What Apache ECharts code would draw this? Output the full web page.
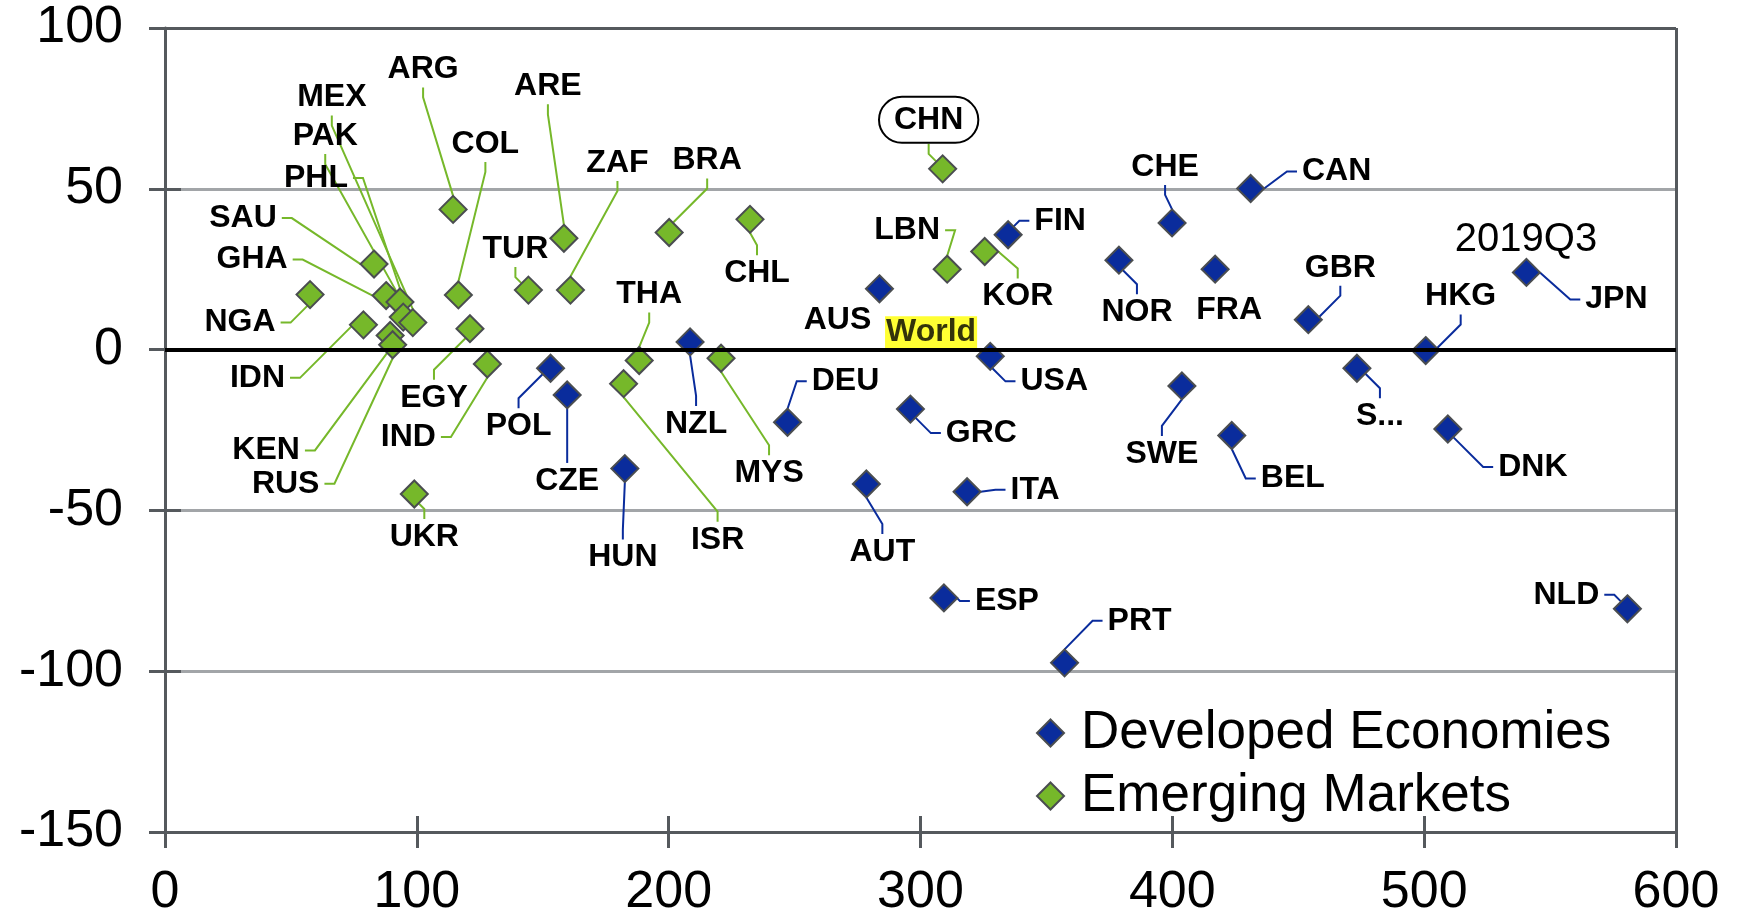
<!DOCTYPE html>
<html><head><meta charset="utf-8">
<script src="https://cdn.jsdelivr.net/npm/echarts@6/dist/echarts.min.js"></script>
<style>html,body{margin:0;padding:0;background:#fff}#chart{width:1737px;height:919px}</style>
</head><body><div id="chart"></div>
<script>
// ---- data ----
const emergingNames = ['NGA','SAU','GHA','PHL','PAK','MEX','IDN','KEN','RUS','ARG','COL','EGY','IND','TUR','ARE','ZAF','UKR','THA','ISR','BRA','MYS','CHL','CHN','LBN','KOR'];
const emergingX = [57.6,83.0,87.8,93.3,94.6,98.4,78.8,89.4,90.4,114.4,116.5,121.1,128.0,144.3,158.4,161.0,99.0,188.3,182.1,200.2,220.8,232.3,308.8,310.6,325.5];
const emergingY = [17.1,26.6,16.8,14.8,10.1,8.4,7.7,4.4,1.5,43.6,17.0,6.5,-4.5,18.5,34.6,18.5,-44.9,-3.4,-10.6,36.4,-2.7,40.5,56.2,25.0,30.5];

const developedNames = ['POL','CZE','HUN','NZL','DEU','AUT','AUS','GRC','ESP','ITA','USA','FIN','PRT','NOR','CHE','SWE','FRA','BEL','CAN','GBR','S...','HKG','DNK','JPN','NLD'];
const developedX = [153.1,159.7,182.6,208.5,247.2,278.5,283.7,296.0,309.3,318.5,327.7,334.8,357.2,378.8,399.9,403.8,417.0,423.6,431.1,454.0,473.3,500.6,509.4,540.6,580.7];
const developedY = [-5.8,-14.1,-37.0,2.4,-22.6,-41.8,18.9,-18.5,-77.2,-44.2,-2.1,35.7,-97.4,27.8,39.4,-11.3,25.0,-26.7,50.1,9.3,-5.8,-0.3,-24.7,24.0,-80.6];

const worldName = ['World'];
const worldX = [304.2];
const worldY = [5.4];

const xTicks = [0, 600, 100];      // min, max, interval
const yTicks = [-150, 100, 50];    // min, max, interval
const seriesNames = ['Developed Economies', 'Emerging Markets'];
const annotationText = '2019Q3';

// ---- label placement (pixel offsets of label centre from marker) ----
const labelOffsets = {
  NGA:[-70,28], SAU:[-131,-46], GHA:[-134,-36], PHL:[-84,-124], PAK:[-78,-181], MEX:[-81,-225],
  IDN:[-106,53], KEN:[-124,115], RUS:[-107,139], ARG:[-30,-140], COL:[27,-151], EGY:[-36,69],
  IND:[-79,73], TUR:[-13,-41], ARE:[-16,-152], ZAF:[47,-127], UKR:[10,43], THA:[10,-66],
  ISR:[94,156], BRA:[38,-72], MYS:[48,115], CHL:[7,54], CHN:[-14,-49], LBN:[-40,-39], KOR:[33,45],
  POL:[-32,58], CZE:[0,86], HUN:[-2,89], NZL:[6,82], DEU:[58,-41], AUT:[16,68], AUS:[-42,31],
  GRC:[71,24], ESP:[63,3], ITA:[68,-2], USA:[64,25], FIN:[52,-14], PRT:[75,-42], NOR:[18,52],
  CHE:[-7,-56], SWE:[-20,68], FRA:[14,41], BEL:[61,43], CAN:[86,-17], GBR:[32,-52], 'S...':[23,48],
  HKG:[35,-54], DNK:[85,38], JPN:[90,27], NLD:[-61,-14]
};
const noLeader = ['AUS','FRA'];

const FONT = '"Liberation Sans", Arial, sans-serif';
const AX = '#55595d', GRIDC = '#a2a5a8';
const BLUE = '#0a2c9c', GREEN = '#76b82a';

function buildData(names, xs, ys) {
  return names.map((n, i) => {
    const item = { name: n, value: [xs[i], ys[i]] };
    if (noLeader.indexOf(n) >= 0) item.labelLine = { show: false };
    if (n === 'CHN') item.label = { borderColor: '#000', borderWidth: 2, borderRadius: 23, padding: [7, 15] };
    return item;
  });
}
const namesBySeries = [developedNames, emergingNames];
function layoutFn(p) {
  const n = namesBySeries[p.seriesIndex][p.dataIndex];
  const o = labelOffsets[n] || [0, 0];
  return { dx: o[0], dy: o[1] };
}
function scatterSeries(name, color, names, xs, ys) {
  return {
    name: name, type: 'scatter', symbol: 'diamond', symbolSize: 27,
    itemStyle: { color: color, borderColor: '#4a4d50', borderWidth: 2, opacity: 1 },
    data: buildData(names, xs, ys),
    label: { show: true, position: 'inside', formatter: '{b}', color: '#000', fontFamily: FONT,
             fontWeight: 'bold', fontSize: 32, lineHeight: 32, padding: [2, 5] },
    labelLine: { show: true, length2: 10, lineStyle: { width: 2 } },
    labelLayout: layoutFn,
    emphasis: { disabled: true }
  };
}

const chart = echarts.init(document.getElementById('chart'));
const devSeries = scatterSeries(seriesNames[0], BLUE, developedNames, developedX, developedY);
devSeries.markLine = {
  silent: true, symbol: 'none', animation: false,
  label: { show: false },
  lineStyle: { color: '#000', width: 4, type: 'solid' },
  data: [{ yAxis: 0 }]
};
devSeries.z = 3;
const emSeries = scatterSeries(seriesNames[1], GREEN, emergingNames, emergingX, emergingY);

chart.setOption({
  animation: false,
  backgroundColor: '#fff',
  grid: { left: 165, right: 61, top: 28, bottom: 84, show: false },
  legend: {
    data: seriesNames, orient: 'vertical', left: 1031, top: 699,
    itemWidth: 27, itemHeight: 27, itemGap: 5,
    textStyle: { fontFamily: FONT, fontSize: 53, color: '#000', lineHeight: 58, padding: [0, 0, 0, 12] }
  },
  xAxis: [{
    type: 'value', min: xTicks[0], max: xTicks[1], interval: xTicks[2], position: 'bottom',
    axisLine: { show: true, onZero: false, lineStyle: { color: AX, width: 3 } },
    axisTick: { show: true, length: 16, lineStyle: { color: AX, width: 3 } },
    axisLabel: { fontFamily: FONT, fontSize: 52, color: '#000', margin: 35 },
    splitLine: { show: true, lineStyle: { color: [AX, 'rgba(0,0,0,0)', 'rgba(0,0,0,0)', 'rgba(0,0,0,0)', 'rgba(0,0,0,0)', 'rgba(0,0,0,0)', AX], width: 3 } }
  }, {
    type: 'value', min: xTicks[0], max: xTicks[1], interval: xTicks[2], position: 'bottom',
    axisLine: { show: false, onZero: false },
    axisTick: { show: true, inside: true, length: 16, lineStyle: { color: AX, width: 3 } },
    axisLabel: { show: false }, splitLine: { show: false }
  }],
  yAxis: [{
    type: 'value', min: yTicks[0], max: yTicks[1], interval: yTicks[2], position: 'left',
    axisLine: { show: true, onZero: false, lineStyle: { color: AX, width: 3 } },
    axisTick: { show: true, length: 16, lineStyle: { color: AX, width: 3 } },
    axisLabel: { fontFamily: FONT, fontSize: 52, color: '#000', margin: 42 },
    splitLine: { show: true, lineStyle: { color: [AX, GRIDC, GRIDC, GRIDC, GRIDC, AX], width: 3 } }
  }, {
    type: 'value', min: yTicks[0], max: yTicks[1], interval: yTicks[2], position: 'left',
    axisLine: { show: false, onZero: false },
    axisTick: { show: true, inside: true, length: 16, lineStyle: { color: AX, width: 3 } },
    axisLabel: { show: false }, splitLine: { show: false }
  }],
  graphic: [{
    type: 'text', x: 1526, y: 240, z: 10,
    style: { text: annotationText, font: '40px ' + FONT, textAlign: 'center', textVerticalAlign: 'middle', fill: '#000' }
  }],
  series: [devSeries, emSeries, {
    name: worldName[0], type: 'scatter', symbol: 'circle', symbolSize: 1, silent: true,
    itemStyle: { color: 'rgba(0,0,0,0)' },
    data: worldName.map((n, i) => ({ name: n, value: [worldX[i], worldY[i]] })),
    label: { show: true, position: 'inside', formatter: '{b}', color: '#000', fontFamily: FONT, fontWeight: 'bold',
             fontSize: 32, lineHeight: 32, backgroundColor: '#ffff00', padding: [0, 1] },
    z: 4
  }]
});
</script>
</body></html>
